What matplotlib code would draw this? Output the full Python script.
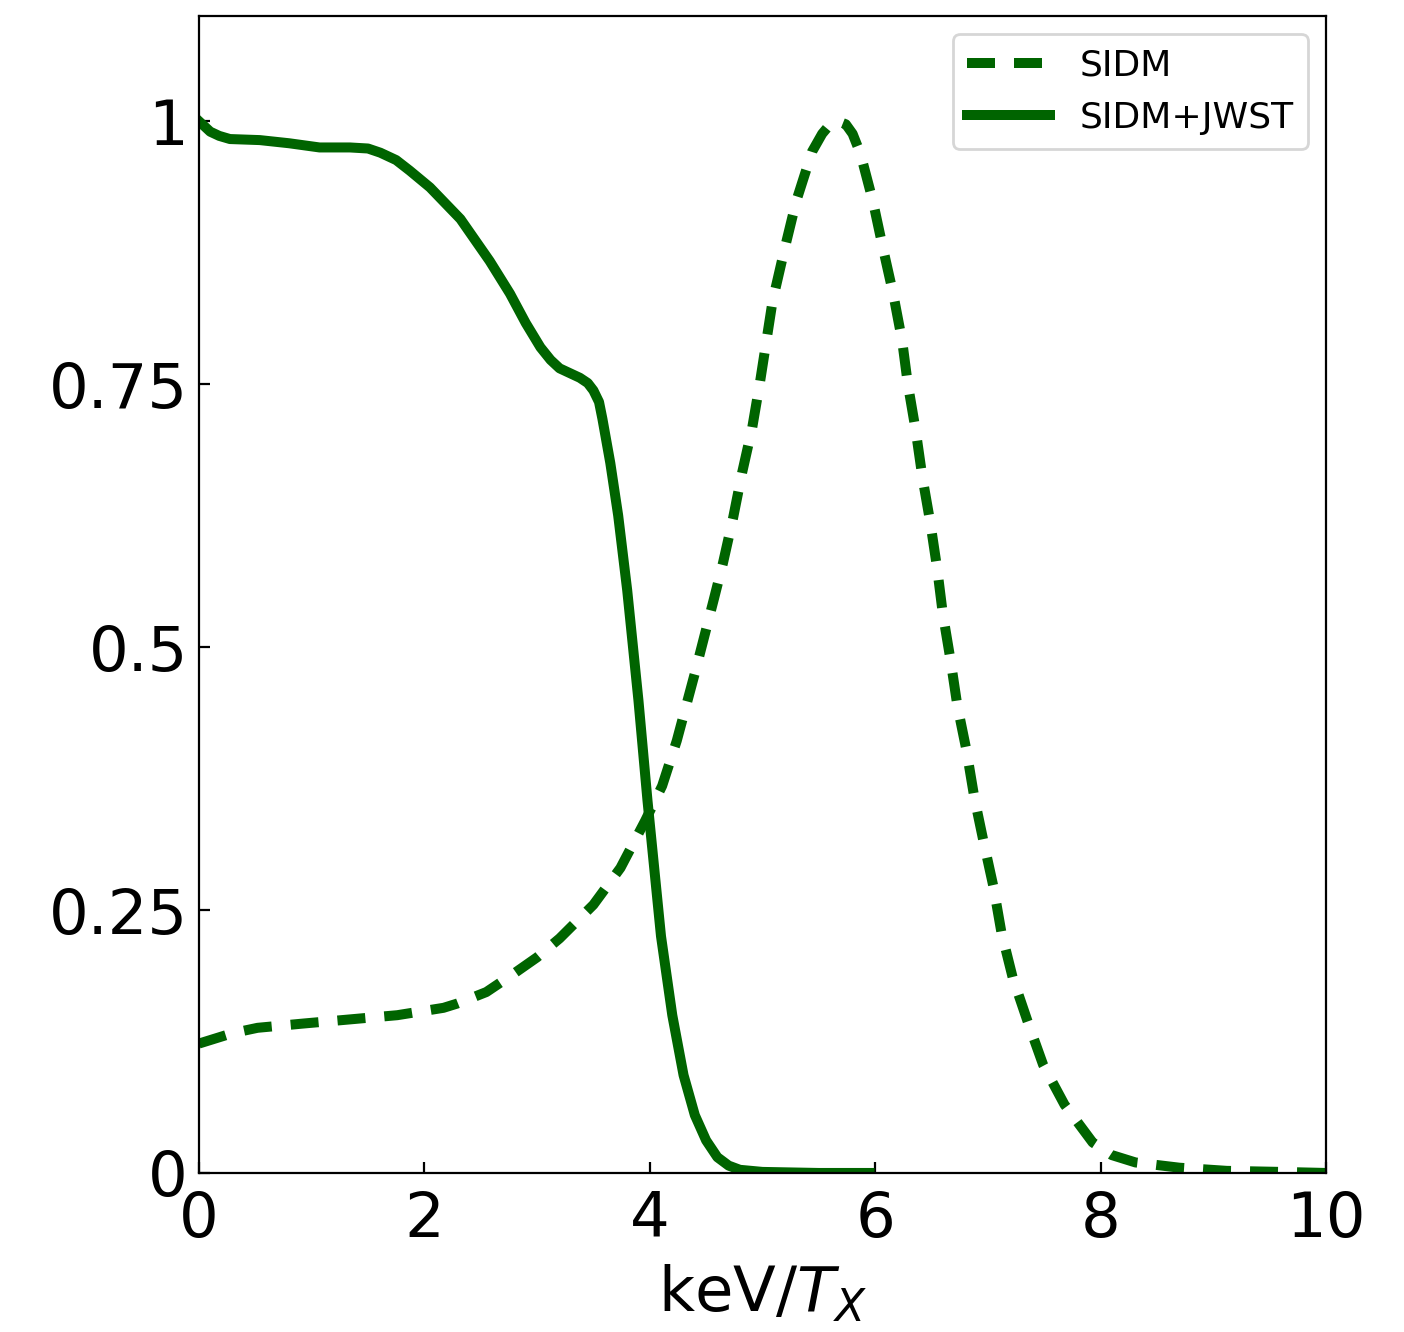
import matplotlib
matplotlib.use("Agg")
import matplotlib.pyplot as plt

# SIDM (dashed) curve
sidm_x = [0.0, 0.30, 0.52, 0.92, 1.34, 1.76, 2.17, 2.29, 2.55, 2.80, 3.00, 3.20, 3.50,
          3.74, 3.96, 4.11, 4.24, 4.40, 4.57, 4.65, 4.74, 4.82, 4.91, 4.98, 5.09,
          5.20, 5.30, 5.44, 5.53, 5.60, 5.67, 5.74, 5.80, 5.87, 5.98, 6.07, 6.16, 6.24, 6.29,
          6.36, 6.42, 6.49, 6.55, 6.60, 6.67, 6.73, 6.81, 6.88, 6.96, 7.05, 7.12,
          7.22, 7.35, 7.49, 7.68, 7.93, 8.10, 8.31, 8.70, 9.12, 9.6, 10.0]
sidm_y = [0.123, 0.133, 0.138, 0.142, 0.146, 0.150, 0.157, 0.161, 0.172, 0.190, 0.205,
          0.223, 0.255, 0.290, 0.335, 0.368, 0.411, 0.475, 0.546, 0.580, 0.623, 0.666,
          0.709, 0.753, 0.829, 0.880, 0.924, 0.971, 0.988, 0.997, 1.000, 0.997, 0.988,
          0.969, 0.924, 0.879, 0.836, 0.791, 0.750, 0.706, 0.661, 0.618, 0.575, 0.532,
          0.487, 0.444, 0.402, 0.357, 0.316, 0.272, 0.229, 0.186, 0.145, 0.103, 0.065,
          0.029, 0.017, 0.010, 0.005, 0.002, 0.001, 0.0]

# SIDM+JWST (solid) curve
jwst_x = [0.0, 0.05, 0.10, 0.18, 0.275, 0.54, 0.80, 1.07, 1.34, 1.50, 1.61, 1.75, 1.87,
          2.05, 2.32, 2.58, 2.76, 2.90, 3.03, 3.12, 3.20, 3.30, 3.38, 3.45, 3.50, 3.55,
          3.58, 3.65, 3.72, 3.80, 3.90, 3.98, 4.10, 4.20, 4.30, 4.40, 4.50, 4.60, 4.70,
          4.80, 5.00, 5.50, 5.95]
jwst_y = [1.0, 0.995, 0.990, 0.986, 0.983, 0.982, 0.979, 0.975, 0.975, 0.974, 0.970,
          0.963, 0.953, 0.937, 0.907, 0.867, 0.836, 0.808, 0.785, 0.773, 0.765, 0.760,
          0.756, 0.751, 0.744, 0.733, 0.717, 0.675, 0.625, 0.554, 0.449, 0.354, 0.225,
          0.150, 0.093, 0.055, 0.031, 0.015, 0.007, 0.003, 0.001, 0.0, 0.0]

xticks = [0, 2, 4, 6, 8, 10]
yticks = [0, 0.25, 0.5, 0.75, 1]
ytick_labels = ["0", "0.25", "0.5", "0.75", "1"]

color = "#006400"

fig = plt.figure(figsize=(7.02, 6.66), dpi=200)
ax = fig.add_axes([0.1417, 0.1194, 0.8027, 0.8686])

ax.plot(sidm_x, sidm_y, color=color, lw=3.6, linestyle=(0, (2.8, 1.9)), label="SIDM")
ax.plot(jwst_x, jwst_y, color=color, lw=3.6, label="SIDM+JWST")

ax.set_xlim(0, 10)
ax.set_ylim(0, 1.1)
ax.set_xticks(xticks)
ax.set_xticklabels([str(t) for t in xticks])
ax.set_yticks(yticks)
ax.set_yticklabels(ytick_labels)
ax.tick_params(direction="in", length=4, labelsize=22.5)
ax.tick_params(axis="x", pad=6)
ax.tick_params(axis="y", pad=4)
ax.set_xlabel(r"keV/$T_X$", fontsize=22.5, labelpad=5)

ax.legend(loc="upper right", fontsize=13, handlelength=2.3)

fig.savefig("out.png", dpi=200)
